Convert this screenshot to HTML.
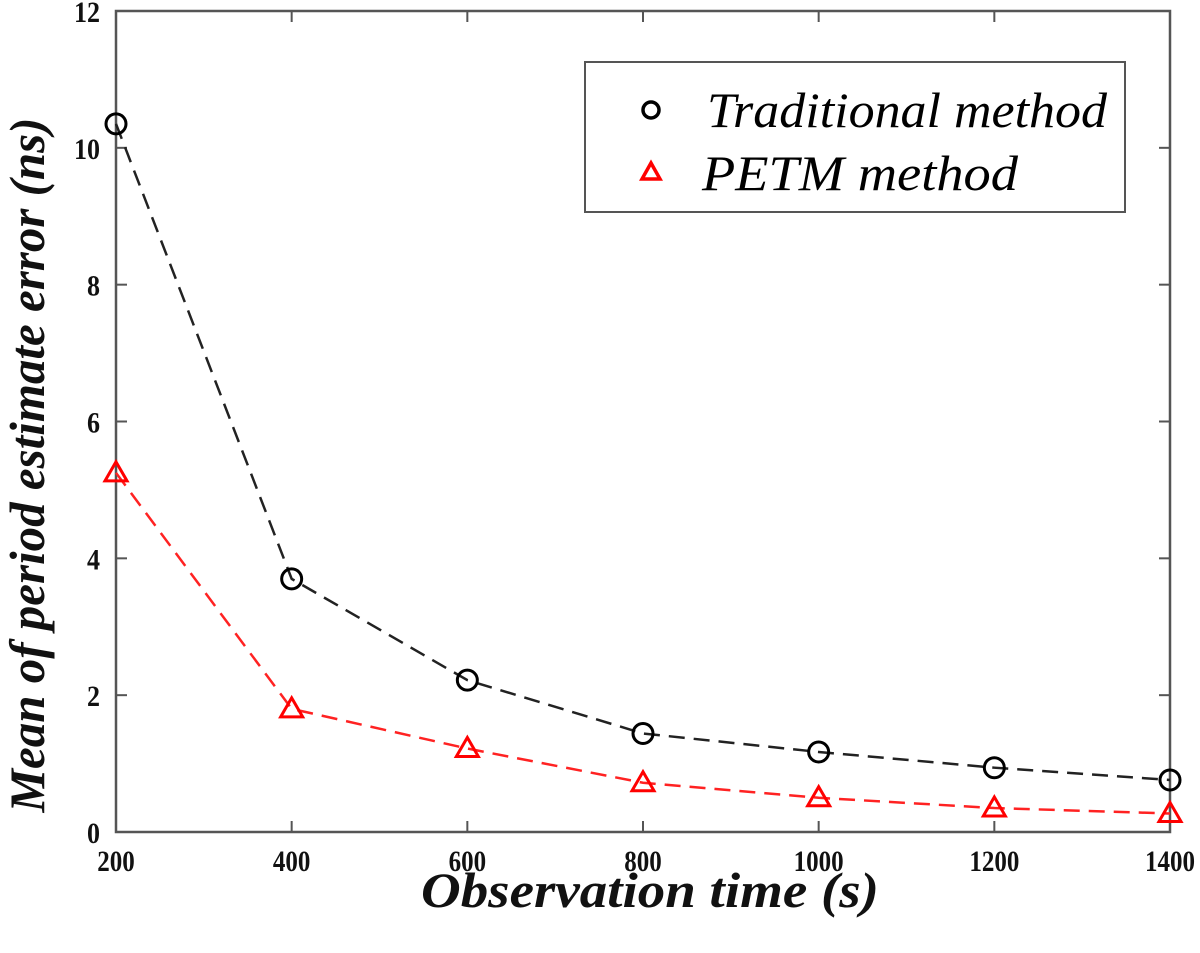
<!DOCTYPE html>
<html><head><meta charset="utf-8"><style>
html,body{margin:0;padding:0;background:#fff;}
svg{display:block;}
.tick{font-family:"Liberation Serif",serif;font-weight:bold;font-size:30px;fill:#111;}
.title{font-family:"Liberation Serif",serif;font-weight:bold;font-style:italic;font-size:50px;fill:#111;}
.leg{font-family:"Liberation Serif",serif;font-style:italic;font-size:50px;fill:#000;}
</style></head><body>
<svg id="chart" width="1200" height="953" xmlns="http://www.w3.org/2000/svg">
<g id="axes"></g>
<g id="series"></g>
<g>
<rect x="585" y="62" width="540" height="150" fill="#fff" stroke="#555" stroke-width="2"/>
<circle cx="651" cy="110" r="8" fill="none" stroke="#000" stroke-width="3.5"/>
<text class="leg" x="707" y="127" textLength="400" lengthAdjust="spacingAndGlyphs">Traditional method</text>
<polygon points="651,163 642,179 660,179" fill="none" stroke="#f00" stroke-width="3.5"/>
<text class="leg" x="702" y="190" textLength="316" lengthAdjust="spacingAndGlyphs">PETM method</text>
</g>
<text class="title" x="650" y="907" text-anchor="middle" textLength="458" lengthAdjust="spacingAndGlyphs">Observation time (s)</text>
<text class="title" transform="translate(44,465) rotate(-90)" text-anchor="middle" textLength="695" lengthAdjust="spacingAndGlyphs">Mean of period estimate error (ns)</text>
</svg>
<script>
const xValues = [200, 400, 600, 800, 1000, 1200, 1400];
const traditional = [10.35, 3.7, 2.22, 1.44, 1.17, 0.94, 0.76];
const petm = [5.25, 1.8, 1.22, 0.72, 0.5, 0.35, 0.27];
const xTicks = [200, 400, 600, 800, 1000, 1200, 1400];
const yTicks = [0, 2, 4, 6, 8, 10, 12];

const L = 116, R = 1170, T = 11, B = 832;
const xMin = 200, xMax = 1400, yMin = 0, yMax = 12;
function sx(v){ return L + (v - xMin) / (xMax - xMin) * (R - L); }
function sy(v){ return B - (v - yMin) / (yMax - yMin) * (B - T); }
const NS = "http://www.w3.org/2000/svg";
function mk(tag, attrs, parent){ const e = document.createElementNS(NS, tag); for (const k in attrs) e.setAttribute(k, attrs[k]); parent.appendChild(e); return e; }

const axes = document.getElementById('axes');
const frame = mk('rect', {x:L, y:T, width:R-L, height:B-T, fill:'none', stroke:'#555', 'stroke-width':2.5}, axes);


xTicks.forEach(v => {
  const x = sx(v);
  mk('line', {x1:x, y1:B, x2:x, y2:B-11, stroke:'#555', 'stroke-width':2}, axes);
  mk('line', {x1:x, y1:T, x2:x, y2:T+11, stroke:'#555', 'stroke-width':2}, axes);
  const t = mk('text', {x:x, y:B+39, 'text-anchor':'middle', class:'tick', textLength:String(v).length*12.5, lengthAdjust:'spacingAndGlyphs'}, axes);
  t.textContent = v;
  
  
});
yTicks.forEach(v => {
  const y = sy(v);
  mk('line', {x1:L, y1:y, x2:L+11, y2:y, stroke:'#555', 'stroke-width':2}, axes);
  mk('line', {x1:R, y1:y, x2:R-11, y2:y, stroke:'#555', 'stroke-width':2}, axes);
  const t = mk('text', {x:L-16, y:y+11, 'text-anchor':'end', class:'tick', textLength:String(v).length*13, lengthAdjust:'spacingAndGlyphs'}, axes);
  t.textContent = v;
  
  
});

const series = document.getElementById('series');
function drawLine(vals, color, name){
  const pts = vals.map((v,i) => sx(xValues[i]) + ',' + sy(v)).join(' ');
  const pl = mk('polyline', {points:pts, fill:'none', stroke:color, 'stroke-width':2.5, 'stroke-dasharray':'16,9'}, series);
  
  
}
drawLine(traditional, '#222', 'traditional-line');
drawLine(petm, '#f22', 'petm-line');
traditional.forEach((v,i) => {
  const c = mk('circle', {cx:sx(xValues[i]), cy:sy(v), r:10, fill:'none', stroke:'#000', 'stroke-width':3}, series);
  
  
});
petm.forEach((v,i) => {
  const x = sx(xValues[i]), y = sy(v);
  const p = mk('polygon', {points:`${x},${y-11} ${x-11},${y+8} ${x+11},${y+8}`, fill:'none', stroke:'#f00', 'stroke-width':3}, series);
  
  
});
</script>
</body></html>
